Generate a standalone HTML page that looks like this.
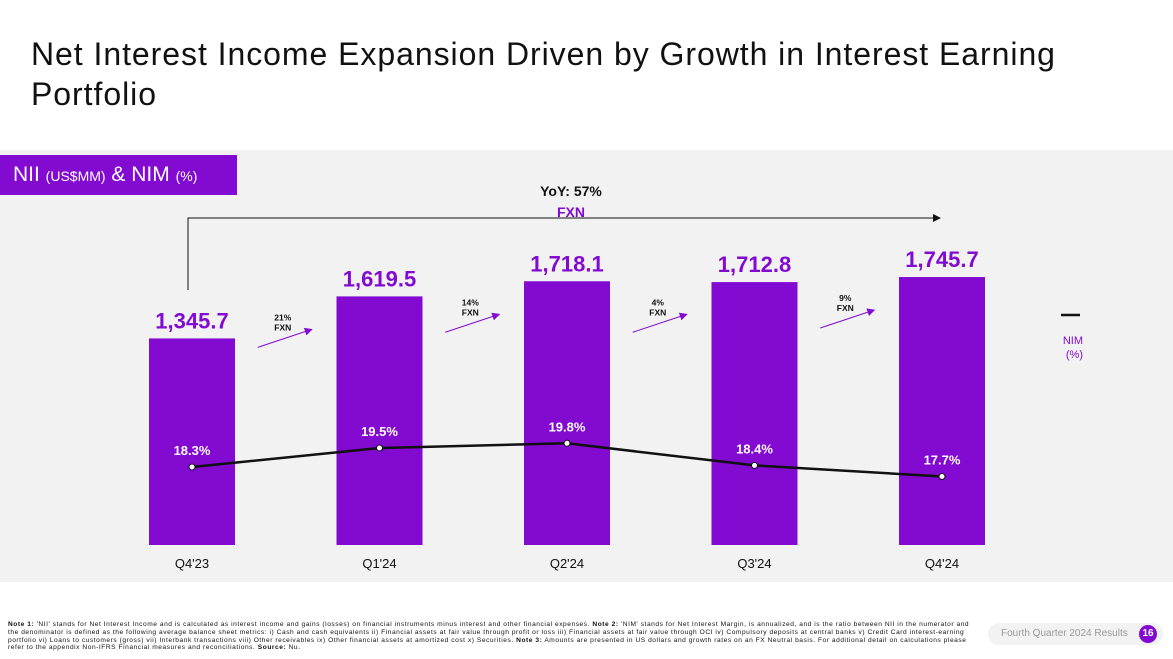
<!DOCTYPE html>
<html><head><meta charset="utf-8"><style>
body{margin:0;width:1173px;height:659px;background:#fff;font-family:"Liberation Sans",sans-serif;overflow:hidden;position:relative}
.t{position:absolute}
</style></head><body>
<div class="t" style="left:31px;top:34px;font-size:32px;letter-spacing:0.95px;line-height:40px;color:#111;width:1090px">Net Interest Income Expansion Driven by Growth in Interest Earning Portfolio</div>
<div class="t" style="left:0;top:150px;width:1173px;height:432px;background:#f2f2f2"></div>
<div class="t" style="left:0;top:155px;width:237px;height:40px;background:#820ad1;color:#fff;font-size:21px;line-height:40px;padding-left:13px;box-sizing:border-box">NII <span style="font-size:14px">(US$MM)</span> &amp; NIM <span style="font-size:14px">(%)</span></div>
<svg class="t" style="left:0;top:0" width="1173" height="659">
<defs><marker id="ah" markerWidth="8" markerHeight="8" refX="7" refY="4" orient="auto"><path d="M0,0 L8,4 L0,8 z" fill="#820ad1"/></marker>
<marker id="ak" markerWidth="8" markerHeight="8" refX="7" refY="4" orient="auto"><path d="M0,0 L8,4 L0,8 z" fill="#111"/></marker></defs>
<g id="g"></g>
</svg>
<div class="t" style="left:8px;top:621px;width:968px;font-size:6.6px;letter-spacing:0.55px;line-height:7.8px;color:#111"><b>Note 1:</b> 'NII' stands for Net Interest Income and is calculated as interest income and gains (losses) on financial instruments minus interest and other financial expenses. <b>Note 2:</b> 'NIM' stands for Net Interest Margin, is annualized, and is the ratio between NII in the numerator and the denominator is defined as the following average balance sheet metrics: i) Cash and cash equivalents ii) Financial assets at fair value through profit or loss iii) Financial assets at fair value through OCI iv) Compulsory deposits at central banks v) Credit Card interest-earning portfolio vi) Loans to customers (gross) vii) Interbank transactions viii) Other receivables ix) Other financial assets at amortized cost x) Securities. <b>Note 3:</b> Amounts are presented in US dollars and growth rates on an FX Neutral basis. For additional detail on calculations please refer to the appendix Non-IFRS Financial measures and reconciliations. <b>Source:</b> Nu.</div>
<div class="t" style="left:988px;top:623px;width:175px;height:22px;border-radius:11px;background:#f2f2f2;font-size:10px;color:#999;line-height:22px;padding-left:13px;box-sizing:border-box">Fourth Quarter 2024 Results</div>
<div class="t" style="left:1139px;top:625px;width:18px;height:18px;border-radius:9px;background:#820ad1;color:#fff;font-size:10px;font-weight:bold;text-align:center;line-height:18px">16</div>
<script>
const categories=["Q4'23","Q1'24","Q2'24","Q3'24","Q4'24"];
const nii=[1345.7,1619.5,1718.1,1712.8,1745.7];
const nim=[18.3,19.5,19.8,18.4,17.7];
const growth=["21%","14%","4%","9%"];
const g=document.getElementById('g');
const NS="http://www.w3.org/2000/svg";
function mk(t,a,txt){const e=document.createElementNS(NS,t);for(const k in a)e.setAttribute(k,a[k]);if(txt!=null)e.textContent=txt;g.appendChild(e);return e;}
const x=i=>192+i*187.5;
const yb=v=>545-v*0.1535;
const yn=v=>467-(v-18.3)*15.8;
let p=mk('path',{d:`M188,290 L188,218 L940,218`,fill:'none',stroke:'#111','stroke-width':1,'marker-end':'url(#ak)'});

let t=mk('text',{x:571,y:196,'text-anchor':'middle','font-size':14,'font-weight':'bold',fill:'#111'},'YoY: 57%');

t=mk('text',{x:571,y:217,'text-anchor':'middle','font-size':14,'font-weight':'bold',fill:'#820ad1'},'FXN');

nii.forEach((v,i)=>{
 const r=mk('rect',{x:x(i)-43,y:yb(v),width:86,height:545-yb(v),fill:'#820ad1'});
 
 const l=mk('text',{x:x(i),y:yb(v)-10,'text-anchor':'middle','font-size':22,'font-weight':'bold',fill:'#820ad1'},v.toLocaleString('en-US',{minimumFractionDigits:1}));
 
 const c=mk('text',{x:x(i),y:568,'text-anchor':'middle','font-size':13,fill:'#111'},categories[i]);
 
});
growth.forEach((s,i)=>{
 const cx=(x(i)+x(i+1))/2, y0=Math.min(yb(nii[i]),yb(nii[i+1]));
 const a=mk('line',{x1:cx-28,y1:y0+51,x2:cx+26,y2:y0+33,stroke:'#820ad1','stroke-width':1,'marker-end':'url(#ah)'});
 
 let l=mk('text',{x:cx-3,y:y0+24,'text-anchor':'middle','font-size':8.5,'font-weight':'bold',fill:'#111'},s);
 
 l=mk('text',{x:cx-3,y:y0+34,'text-anchor':'middle','font-size':8.5,'font-weight':'bold',fill:'#111'},'FXN');
 
});
const ln=mk('polyline',{points:nim.map((v,i)=>x(i)+','+yn(v)).join(' '),fill:'none',stroke:'#111','stroke-width':2.5});

nim.forEach((v,i)=>{
 const c=mk('circle',{cx:x(i),cy:yn(v),r:3,fill:'#fff',stroke:'#111','stroke-width':1});
 
 const l=mk('text',{x:x(i),y:yn(v)-12,'text-anchor':'middle','font-size':13,'font-weight':'bold',fill:'#fff'},v.toFixed(1)+'%');
 
});
let lg=mk('line',{x1:1061,y1:315,x2:1080,y2:315,stroke:'#111','stroke-width':2.5});

lg=mk('text',{x:1083,y:344,'text-anchor':'end','font-size':11,fill:'#820ad1'},'NIM');

lg=mk('text',{x:1083,y:358,'text-anchor':'end','font-size':11,fill:'#820ad1'},'(%)');

</script>
</body></html>
